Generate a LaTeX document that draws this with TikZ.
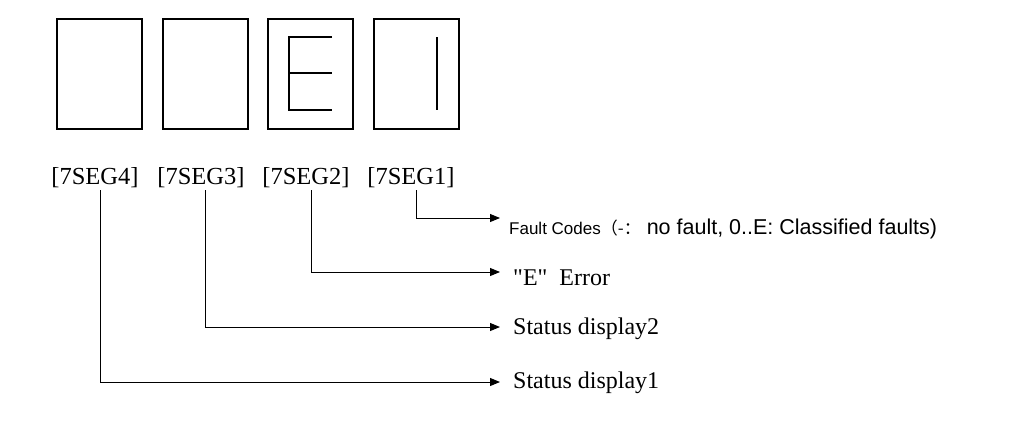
\documentclass[tikz,border=0pt]{standalone}
\usepackage{fontspec}
\setmainfont{Liberation Serif}
\setsansfont{Liberation Sans}
\newfontfamily\cjk{Noto Sans CJK SC}
\usetikzlibrary{arrows.meta,positioning}
\tikzset{
    digit/.style={draw,line width=1.3pt,minimum width=85pt,minimum height=110pt,inner sep=0pt},
    seg/.style={line width=1.3pt},
    tag/.style={font=\fontsize{24.5}{24.5}\selectfont,inner sep=0pt},
    note/.style={anchor=west,inner sep=0pt,font=\fontsize{24}{24}\selectfont},
    pointer/.style={-{Triangle[length=10pt,width=8pt]},line width=1pt}
}

\begin{document}
\begin{tikzpicture}[x=1pt,y=-1pt]
    \useasboundingbox (0,0) rectangle (1016,439);

    % the four digits
    \node[digit] (seg 4) at (99.5,74)  {};
    \node[digit] (seg 3) at (205.5,74) {};
    \node[digit] (seg 2) at (310.5,74) {};
    \node[digit] (seg 1) at (416.5,74) {};

    % E and 1 segments
    \draw[seg] (332,37) -- (289,37) -- (289,110) -- (332,110) (289,73) -- (332,73);
    \draw[seg] (437,37) -- (437,110);

    % labels under the digits
    \node[tag] (tag 4) at (95,178)  {[7SEG4]};
    \node[tag] (tag 3) at (201,178) {[7SEG3]};
    \node[tag] (tag 2) at (306,178) {[7SEG2]};
    \node[tag] (tag 1) at (411,178) {[7SEG1]};

    % meanings
    \node[note] (fault) at (509,229)
        {\fontsize{17}{17}\selectfont\sffamily Fault Codes{\cjk（-：}\hspace{6pt}\fontsize{21.5}{21.5}\selectfont no fault, 0..E: Classified faults)};
    \node[note] (error)   at (513,278) {\textquotedbl E\textquotedbl\ \ Error};
    \node[note] (status2) at (513,329) {Status display2};
    \node[note] (status1) at (513,383) {Status display1};

    \coordinate (end 1) at (500,218);
    \coordinate (end 2) at (500,272);
    \coordinate (end 3) at (500,327);
    \coordinate (end 4) at (500,382);

    \draw[pointer] (tag 1.south -| 416,0) ++(0,2) |- (end 1);
    \draw[pointer] (tag 2.south -| 311,0) ++(0,2) |- (end 2);
    \draw[pointer] (tag 3.south -| 205,0) ++(0,2) |- (end 3);
    \draw[pointer] (tag 4.south -| 100,0) ++(0,2) |- (end 4);

\end{tikzpicture}
\end{document}
